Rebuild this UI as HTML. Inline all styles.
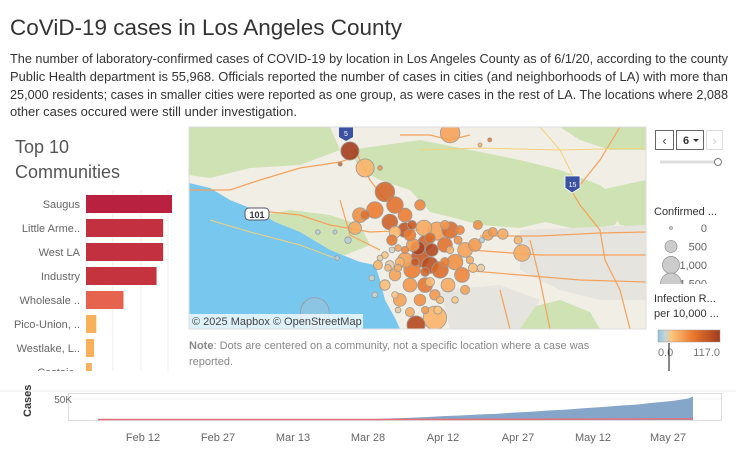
<!DOCTYPE html>
<html><head><meta charset="utf-8">
<style>
html,body{margin:0;padding:0;background:#fff;}
body{width:736px;height:454px;overflow:hidden;position:relative;font-family:"Liberation Sans",sans-serif;}
svg{position:absolute;left:0;top:0;}
</style></head>
<body>
<svg id="root" width="736" height="454" viewBox="0 0 736 454">
  <defs>
    <clipPath id="mapclip"><rect x="189" y="127" width="457" height="202"/></clipPath>
    <clipPath id="barclip"><rect x="0" y="185" width="186" height="186"/></clipPath>
    <clipPath id="legclip"><rect x="650" y="218" width="86" height="66"/></clipPath>
    <linearGradient id="rategrad" x1="0" x2="1" y1="0" y2="0">
      <stop offset="0" stop-color="#8fc4e3"/>
      <stop offset="0.12" stop-color="#c9d6d6"/>
      <stop offset="0.22" stop-color="#fdc57c"/>
      <stop offset="0.55" stop-color="#ec7b2e"/>
      <stop offset="1" stop-color="#a3391a"/>
    </linearGradient>
  </defs>
  <text x="10" y="35" font-size="22" fill="#333" textLength="392" lengthAdjust="spacingAndGlyphs">CoViD-19 cases in Los Angeles County</text>
  <g font-size="12.5" fill="#333">
    <text x="10" y="63" textLength="718" lengthAdjust="spacingAndGlyphs">The number of laboratory-confirmed cases of COVID-19 by location in Los Angeles County as of 6/1/20, according to the county</text>
    <text x="10" y="81" textLength="718" lengthAdjust="spacingAndGlyphs">Public Health department is 55,968. Officials reported the number of cases in cities (and neighborhoods of LA) with more than</text>
    <text x="10" y="99" textLength="718" lengthAdjust="spacingAndGlyphs">25,000 residents; cases in smaller cities were reported as one group, as were cases in the rest of LA. The locations where 2,088</text>
    <text x="10" y="116" textLength="287" lengthAdjust="spacingAndGlyphs">other cases occured were still under investigation.</text>
  </g>

  <text x="15" y="153" font-size="18" fill="#555">Top 10</text>
  <text x="15" y="178" font-size="18" fill="#555">Communities</text>
  <g id="bars" clip-path="url(#barclip)"></g>

  <g id="map" clip-path="url(#mapclip)">
    <rect x="189" y="127" width="457" height="202" fill="#f1eee6"/>
    <g fill="#cfe2b3">
      <path d="M189,127 L330,127 L340,150 L300,165 L250,168 L210,178 L189,175 Z"/>
      <path d="M350,150 L420,140 L470,150 L520,160 L560,170 L600,185 L625,205 L615,225 L580,230 L545,222 L520,228 L480,225 L455,218 L430,212 L410,190 L380,180 L360,170 Z"/>
      <path d="M250,218 L290,210 L330,215 L360,225 L370,245 L345,255 L300,252 L270,240 Z"/>
      <path d="M560,127 L646,127 L646,150 L610,150 L580,140 Z"/>
      <path d="M600,190 L646,180 L646,230 L620,225 Z"/>
      <path d="M520,310 L560,300 L590,312 L600,329 L520,329 Z"/>
    </g>
    <path d="M189,183 L210,188 L230,200 L255,210 L275,222 L300,232 L330,250 L360,262 L375,265 L380,280 L385,300 L395,318 L400,329 L189,329 Z" fill="#77c7ee"/>
    <g fill="#e6e4df">
      <path d="M520,230 L646,225 L646,300 L600,300 L560,290 L520,270 Z"/>
      <path d="M440,290 L500,285 L540,300 L520,329 L450,329 Z"/>
    </g>
    <g fill="none" stroke="#f5a15a" stroke-width="1.2">
      <path d="M189,190 L230,190 L260,180 L300,168 L340,162 L355,157"/>
      <path d="M250,210 L300,215 L330,225 L370,232 L420,230"/>
      <path d="M340,200 L350,235 L380,250"/>
      <path d="M355,150 L370,180 L385,200"/>
      <path d="M400,135 L430,135 L450,140 L470,135"/>
      <path d="M565,180 L580,205 L600,230 L605,260 L620,290 L630,329"/>
      <path d="M620,127 L600,160 L580,185"/>
      <path d="M480,236 L540,236 L600,233 L646,232"/>
      <path d="M470,250 L540,255 L600,255 L646,255"/>
      <path d="M460,270 L520,275 L580,280 L646,282"/>
      <path d="M530,240 L540,280 L550,329"/>
      <path d="M500,290 L510,329"/>
    </g>
    <g fill="none" stroke="#f4d27a" stroke-width="1">
      <path d="M420,150 L480,148 L560,150 L646,148"/>
      <path d="M540,127 L560,150 L575,180"/>
      <path d="M210,220 L250,232 L300,245 L340,260"/>
    </g>
    <g>
      <rect x="245" y="208" width="24" height="12" rx="4" fill="#fff" stroke="#556" stroke-width="1"/>
      <text x="257" y="218" font-size="9" font-weight="bold" fill="#334" text-anchor="middle">101</text>
      <path d="M339,127 L353,127 L353,137 L346,141 L339,137 Z" fill="#3b52a3"/>
      <text x="346" y="136" font-size="7" fill="#fff" text-anchor="middle">5</text>
      <path d="M565,176 L580,176 L580,188 L572,193 L565,188 Z" fill="#3b52a3" stroke="#fff" stroke-width="0.8"/>
      <text x="572.5" y="187" font-size="7" fill="#fff" text-anchor="middle">15</text>
    </g>
    <g id="dots"></g>
    <rect x="189" y="314" width="174" height="15" fill="#fff" opacity="0.75"/>
    <text x="192" y="325" font-size="11" fill="#444">© 2025 Mapbox  © OpenStreetMap</text>
  </g>
  <rect x="189" y="127" width="457" height="202" fill="none" stroke="#ddd"/>
  <text x="189" y="349" font-size="11" fill="#888"><tspan font-weight="bold">Note</tspan>: Dots are centered on a community, not a specific location where a case was</text>
  <text x="189" y="365" font-size="11" fill="#888">reported.</text>

  <g>
    <rect x="655.5" y="130.5" width="18" height="19" fill="#fff" stroke="#666"/>
    <text x="664.5" y="145" font-size="13" fill="#444" text-anchor="middle">‹</text>
  </g>
  <g>
    <rect x="676.5" y="130.5" width="27" height="19" fill="#fff" stroke="#666"/>
    <text x="686" y="144" font-size="11" font-weight="bold" fill="#333" text-anchor="middle">6</text>
    <path d="M693,139 L699,139 L696,142 Z" fill="#333"/>
  </g>
  <g>
    <rect x="706.5" y="130.5" width="16" height="19" fill="#fff" stroke="#ddd"/>
    <text x="714.5" y="145" font-size="13" fill="#ccc" text-anchor="middle">›</text>
  </g>
  <line x1="660" y1="162" x2="716" y2="162" stroke="#ddd" stroke-width="3"/>
  <circle cx="718" cy="162" r="3.5" fill="#fff" stroke="#777"/>

  <text x="654" y="215" font-size="11" fill="#333">Confirmed ...</text>
  <g id="sizeleg" clip-path="url(#legclip)"></g>

  <text x="654" y="302" font-size="11" fill="#333">Infection R...</text>
  <text x="654" y="317" font-size="11" fill="#333">per 10,000 ...</text>
  <rect x="658" y="330" width="62" height="12" fill="url(#rategrad)" stroke="#999" stroke-width="0.5"/>
  <text x="658" y="356" font-size="11" fill="#777">0.0</text>
  <text x="720" y="356" font-size="11" fill="#777" text-anchor="end">117.0</text>
  <line x1="669" y1="343" x2="669" y2="371" stroke="#111" stroke-width="1"/>

  <line x1="0" y1="391" x2="736" y2="391" stroke="#eee"/>
  <text transform="translate(31,417) rotate(-90)" font-size="11" font-weight="bold" fill="#333">Cases</text>
  <rect x="68.5" y="393.5" width="653" height="27" fill="#fff" stroke="#ddd"/>
  <g id="timeline"></g>
</svg>
<script>
const barNames = ["Saugus","Little Arme..","West LA","Industry","Wholesale ..","Pico-Union, ..","Westlake, L..","Castaic.."];
const barRates = [117, 105, 105, 96, 51, 14, 11, 8];
const barColors = ["#b8213f","#c3303f","#c3303f","#c5333f","#e5634f","#f8b05a","#f8b05a","#f8b05a"];

const dotLon = [-118.093,-118.422,-118.372,-118.307,-118.340,-118.274,-118.389,-118.291,-118.241,-118.192,-118.405,-118.225,-118.274,-118.218,-118.179,-118.136,-118.093,-118.110,-118.175,-118.215,-118.241,-118.192,-118.159,-118.218,-118.126,-118.077,-118.044,-118.012,-118.054,-118.100,-118.175,-118.225,-118.274,-118.258,-118.291,-118.258,-118.192,-118.143,-118.307,-118.330,-118.199,-118.153,-118.018,-117.969,-117.953,-117.920,-117.857,-117.870,-118.159,-117.992,-117.989,-118.044,-118.133,-118.225,-118.143,-118.205,-118.537,-118.241,-118.284,-118.428,-118.471,-118.527,-118.464,-117.995,-117.963,-118.323,-118.454,
  -118.307,-118.284,-118.264,-118.323,-118.297,-118.264,-118.241,-118.208,-118.175,-118.110,-118.093,-118.067,-118.028,-118.126,-118.077,-118.175,-118.274,-118.264,-118.350,-118.340,-118.061,-118.002,-118.159,-118.110,-118.372];
const dotLat = [34.526,34.455,34.388,34.293,34.221,34.241,34.201,34.174,34.201,34.241,34.150,34.122,34.134,34.162,34.150,34.138,34.142,34.083,34.091,34.083,34.023,34.031,34.003,33.984,33.984,34.015,34.063,34.083,33.964,33.924,33.924,33.924,33.964,34.015,34.003,33.865,33.865,33.885,33.924,34.003,34.071,34.063,33.992,34.122,34.134,34.126,34.051,34.102,33.936,33.992,34.102,33.905,33.825,33.817,33.794,33.766,33.817,34.142,34.102,34.102,34.134,34.134,34.031,34.479,34.499,34.388,34.403,
  34.043,34.063,34.071,34.031,33.992,33.992,34.063,34.015,33.976,34.015,34.063,34.102,34.023,33.865,33.865,33.825,33.885,33.825,33.952,33.885,34.142,34.162,34.110,34.162,34.201];
const dotCases = [700,600,600,700,500,500,400,450,350,200,300,250,250,150,450,600,500,400,400,300,400,600,500,500,500,450,400,300,400,350,400,350,250,150,150,300,250,200,200,150,350,300,150,200,150,200,500,120,150,100,50,150,120,150,1000,600,1500,400,200,80,30,40,40,30,30,40,30,
  80,60,80,60,80,100,100,120,150,150,100,120,100,100,80,100,80,60,60,60,150,150,200,150,150];
const dotRates = [40,117,30,80,60,70,50,85,60,55,35,60,25,90,35,40,75,70,85,45,40,90,100,60,75,50,40,45,55,35,65,45,40,30,15,40,50,45,25,30,110,105,25,40,45,35,35,30,25,15,5,40,20,35,30,105,0,95,65,5,5,5,5,30,60,50,80,
  20,10,40,15,25,35,55,90,80,60,30,50,35,30,20,45,20,15,10,10,55,50,75,45,70];

const sizeLegendValues = [0, 500, 1000, 1500];
const sizeLegendLabels = ["0","500","1,000","1,500"];

const tlDays = [8,14,28,42,56,60,63,66,70,74,77,81,84,88,91,95,98,102,105,109,112,116,119,123,126,127];
const tlCases = [0,1,7,25,600,1200,2500,3500,5000,7000,9200,11000,13000,15000,17500,20000,22500,25000,28000,31000,34000,37000,41000,45500,51000,55968];
const tlRed = [0,0,0,0,50,80,120,160,200,260,320,400,480,560,640,720,800,900,1000,1100,1200,1300,1400,1500,1600,1700];
const tlTickDays = [17,32,47,62,77,92,107,122];
const tlTickLabels = ["Feb 12","Feb 27","Mar 13","Mar 28","Apr 12","Apr 27","May 12","May 27"];

const NS = "http://www.w3.org/2000/svg";
function mk(tag, attrs, parent){ const e=document.createElementNS(NS,tag); for(const k in attrs) e.setAttribute(k,attrs[k]); parent.appendChild(e); return e; }

const bx = v => 86 + v/117*86;
const by = i => 195 + i*24;
const barsG = document.getElementById('bars');
[113,141,168].forEach(x=>mk('line',{x1:x,y1:190,x2:x,y2:371,stroke:'#eee'},barsG));
barNames.forEach((n,i)=>{
  const t = mk('text',{x:80,y:by(i)+13,'font-size':11,fill:'#666','text-anchor':'end'},barsG);
  t.textContent = n;
  
  
  const r = mk('rect',{x:86,y:by(i),width:bx(barRates[i])-86,height:18,fill:barColors[i]},barsG);
  
  
});

const px = lon => 189 + (lon + 118.95) * 304.7;
const py = lat => 127 + (34.55 - lat) * 252.5;
const rad = c => Math.max(2, 0.37*Math.sqrt(c));
function rateColor(v){
  const stops=[[0,[143,196,227]],[8,[201,214,214]],[20,[253,197,124]],[60,[236,123,46]],[117,[163,57,26]]];
  for(let i=1;i<stops.length;i++){ if(v<=stops[i][0]){ const a=stops[i-1],b=stops[i],t=(v-a[0])/(b[0]-a[0]); return 'rgb('+a[1].map((c,j)=>Math.round(c+(b[1][j]-c)*t)).join(',')+')'; } }
  return 'rgb(163,57,26)';
}
const dotsG = document.getElementById('dots');
const order = dotCases.map((c,i)=>i).sort((a,b)=>dotCases[b]-dotCases[a]);
order.forEach(i=>{
  const c = mk('circle',{cx:px(dotLon[i]),cy:py(dotLat[i]),r:rad(dotCases[i]),fill:rateColor(dotRates[i]),'fill-opacity':0.88,stroke:'#9a9a9a','stroke-width':0.8},dotsG);
  
  
});

const slG = document.getElementById('sizeleg');
sizeLegendValues.forEach((v,i)=>{
  const y = 228 + i*18.5;
  const c = mk('circle',{cx:671,cy:y,r:Math.max(1.5,0.27*Math.sqrt(v)),fill:'#ccc',stroke:'#999','stroke-width':0.8},slG);
  
  
  const t = mk('text',{x:707,y:y+4,'font-size':11,fill:'#666','text-anchor':'end'},slG);
  t.textContent = sizeLegendLabels[i];
  
  
});

const tx = d => 58 + d*5;
const ty = v => 420 - v/50000*21;
const tlG = document.getElementById('timeline');
mk('line',{x1:69,y1:ty(50000),x2:721,y2:ty(50000),stroke:'#f0f0f0'},tlG);
const yl = mk('text',{x:72,y:ty(50000)+4,'font-size':10,fill:'#666','text-anchor':'end'},tlG);
yl.textContent='50K';


let d = 'M'+tx(tlDays[0])+','+ty(0);
tlDays.forEach((dd,i)=>{ d+=' L'+tx(dd)+','+ty(tlCases[i]); });
d += ' L'+tx(tlDays[tlDays.length-1])+','+ty(0)+' Z';
const area = mk('path',{d:d,fill:'#86a6c9'},tlG);


const rl = mk('path',{d:tlDays.map((dd,i)=>(i?'L':'M')+tx(dd)+','+(ty(tlRed[i])-0.5)).join(' '),fill:'none',stroke:'#e2707a','stroke-width':1.5},tlG);


tlTickDays.forEach((dd,i)=>{
  const t = mk('text',{x:tx(dd),y:441,'font-size':11,fill:'#666','text-anchor':'middle'},tlG);
  t.textContent = tlTickLabels[i];
  
  
});
</script>
</body></html>
